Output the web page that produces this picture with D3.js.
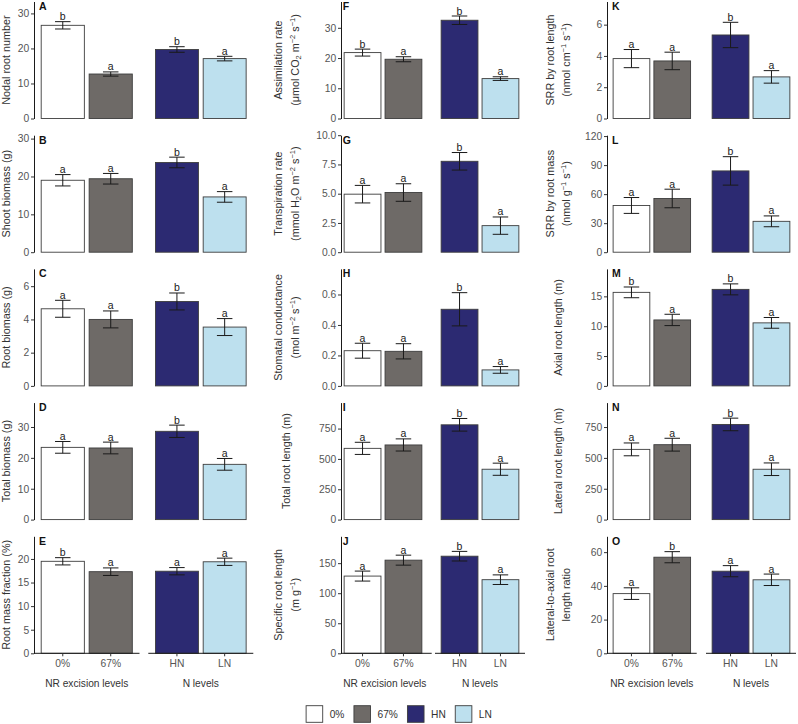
<!DOCTYPE html>
<html>
<head>
<meta charset="utf-8">
<script src="https://cdn.jsdelivr.net/npm/d3@7"></script>
<style>
  body { margin: 0; background: #fff; }
  svg text { font-family: "Liberation Sans", Arial, sans-serif; }
</style>
</head>
<body>
<svg id="chart"></svg>
<script>
// groups and fills
const groups = ["0%", "67%", "HN", "LN"];
const groupFills = ["#ffffff", "#6e6a67", "#2c2a72", "#bde0ee"];
const facetTitles = ["NR excision levels", "N levels"];

const panelLabels = ["A", "B", "C", "D", "E", "F", "G", "H", "I", "J", "K", "L", "M", "N", "O"];

const panelTitles = [
  ["Nodal root number"],
  ["Shoot biomass (g)"],
  ["Root biomass (g)"],
  ["Total biomass (g)"],
  ["Root mass fraction (%)"],
  ["Assimilation rate", "(μmol CO_{2} m^{−2} s^{−1})"],
  ["Transpiration rate", "(mmol H_{2}O m^{−2} s^{−1})"],
  ["Stomatal conductance", "(mol m^{−2} s^{−1})"],
  ["Total root length (m)"],
  ["Specific root length", "(m g^{−1})"],
  ["SRR by root length", "(nmol cm^{−1} s^{−1})"],
  ["SRR by root mass", "(nmol g^{−1} s^{−1})"],
  ["Axial root length (m)"],
  ["Lateral root length (m)"],
  ["Lateral-to-axial root", "length ratio"]
];

const panelMeans = [
  [26.6, 12.7, 19.7, 17.1],
  [19.0, 19.4, 23.7, 14.6],
  [4.64, 4.00, 5.08, 3.54],
  [23.4, 23.2, 28.6, 17.9],
  [19.5, 17.3, 17.4, 19.4],
  [21.8, 19.6, 32.5, 13.2],
  [4.96, 5.10, 7.77, 2.27],
  [0.231, 0.227, 0.503, 0.105],
  [587, 615, 781, 415],
  [128.5, 155, 161.6, 122.5],
  [3.83, 3.68, 5.34, 2.66],
  [48.3, 55.5, 84.0, 31.9],
  [15.67, 11.05, 16.17, 10.56],
  [569, 607, 771, 408],
  [35.4, 57.0, 48.7, 43.6]
];

const panelErrors = [
  [1.05, 0.6, 0.8, 0.65],
  [1.5, 1.4, 1.4, 1.4],
  [0.51, 0.51, 0.51, 0.51],
  [1.9, 1.9, 2.0, 1.9],
  [0.77, 0.8, 0.77, 0.77],
  [1.15, 0.83, 1.4, 0.6],
  [0.75, 0.75, 0.75, 0.74],
  [0.049, 0.05, 0.109, 0.022],
  [50, 50, 52, 50],
  [8.3, 8.3, 8, 8],
  [0.58, 0.56, 0.81, 0.4],
  [8.2, 9.6, 14.7, 5.6],
  [0.9, 0.95, 0.92, 0.9],
  [52, 52, 51, 51],
  [3.45, 3.3, 3.3, 3.4]
];

const panelLetters = [
  ["b", "a", "b", "a"],
  ["a", "a", "b", "a"],
  ["a", "a", "b", "a"],
  ["a", "a", "b", "a"],
  ["b", "a", "a", "a"],
  ["b", "a", "b", "a"],
  ["a", "a", "b", "a"],
  ["a", "a", "b", "a"],
  ["a", "a", "b", "a"],
  ["a", "a", "b", "a"],
  ["a", "a", "b", "a"],
  ["a", "a", "b", "a"],
  ["b", "a", "b", "a"],
  ["a", "a", "b", "a"],
  ["a", "b", "a", "a"]
];

const panelYMax = [33.4, 30.9, 7.04, 37.9, 24.8, 38.7, 10.0, 0.768, 964, 194.7, 7.48, 120.9, 19.6, 948, 69.4];

const panelTicks = [
  [0, 10, 20, 30],
  [0, 10, 20, 30],
  [0, 2, 4, 6],
  [0, 10, 20, 30],
  [0, 5, 10, 15, 20],
  [0, 10, 20, 30],
  [0, 2.5, 5, 7.5, 10],
  [0, 0.2, 0.4, 0.6],
  [0, 250, 500, 750],
  [0, 50, 100, 150],
  [0, 2, 4, 6],
  [0, 30, 60, 90, 120],
  [0, 5, 10, 15],
  [0, 250, 500, 750],
  [0, 20, 40, 60]
];

// layout
const W = 798, H = 724;
const panelH = 117;
const rowBottom = r => 118.5 + 133.7 * r;

const columns = [
  { axisX: 34, leftBand: [34, 139.5], rightBand: [148.3, 253.3], leftLine: [34, 139.5], rightLine: [148.3, 253.3],
    letterDx: 5, titleSingle: 9.5, titleLines: [3, 17] },
  { axisX: 341, leftBand: [338, 428], rightBand: [435, 525], leftLine: [341, 431.7], rightLine: [435, 525],
    letterDx: 1.8, titleSingle: 290, titleLines: [281.5, 298.5] },
  { axisX: 607, leftBand: [607, 696.7], rightBand: [706, 796], leftLine: [607, 696.7], rightLine: [706, 796],
    letterDx: 5, titleSingle: 561.5, titleLines: [553.5, 570] }
];

const svg = d3.select("#chart").attr("width", W).attr("height", H);

function richText(sel, str) {
  const re = /([_^])\{([^}]*)\}/g;
  let last = 0, m, shift = 0;
  const add = (t, dy, small) => {
    const ts = sel.append("tspan").text(t);
    if (dy) ts.attr("dy", dy);
    if (small) ts.attr("font-size", 7.5);
  };
  while ((m = re.exec(str))) {
    if (m.index > last) { add(str.slice(last, m.index), -shift, false); shift = 0; }
    const s = m[1] === "^" ? -4 : 2.5;
    add(m[2], s - shift, true);
    shift = s;
    last = re.lastIndex;
  }
  if (last < str.length) add(str.slice(last), -shift, false);
}

panelLabels.forEach((lab, i) => {
  const c = Math.floor(i / 5), r = i % 5;
  const col = columns[c];
  const y0 = rowBottom(r), y1 = y0 - panelH;

  const y = d3.scaleLinear().domain([0, panelYMax[i]]).range([y0, y1]);
  const xl = d3.scaleBand().domain(groups.slice(0, 2)).range(col.leftBand).paddingInner(0.1).paddingOuter(0.15);
  const xr = d3.scaleBand().domain(groups.slice(2)).range(col.rightBand).paddingInner(0.1).paddingOuter(0.15);
  const xOf = g => (groups.indexOf(g) < 2 ? xl : xr)(g);
  const bw = xl.bandwidth();

  const g = svg.append("g");

  const rows = groups.map((grp, k) => ({
    grp, k, m: panelMeans[i][k], e: panelErrors[i][k], letter: panelLetters[i][k]
  }));

  // bars
  g.selectAll("rect.bar").data(rows).enter().append("rect")
    .attr("x", d => xOf(d.grp))
    .attr("width", d => (d.k < 2 ? xl : xr).bandwidth())
    .attr("y", d => y(d.m))
    .attr("height", d => y0 - y(d.m))
    .attr("fill", d => groupFills[d.k])
    .attr("stroke", "#3d3d3d")
    .attr("stroke-width", 0.9);

  // error bars
  const eb = g.selectAll("g.eb").data(rows).enter().append("g")
    .attr("stroke", "#1a1a1a").attr("stroke-width", 1);
  const cx = d => xOf(d.grp) + (d.k < 2 ? xl : xr).bandwidth() / 2;
  eb.append("line")
    .attr("x1", cx).attr("x2", cx)
    .attr("y1", d => y(d.m - d.e)).attr("y2", d => y(d.m + d.e));
  eb.append("line")
    .attr("x1", d => cx(d) - 7.75).attr("x2", d => cx(d) + 7.75)
    .attr("y1", d => y(d.m + d.e)).attr("y2", d => y(d.m + d.e));
  eb.append("line")
    .attr("x1", d => cx(d) - 7.75).attr("x2", d => cx(d) + 7.75)
    .attr("y1", d => y(d.m - d.e)).attr("y2", d => y(d.m - d.e));

  // significance letters
  g.selectAll("text.sig").data(rows).enter().append("text")
    .attr("x", cx)
    .attr("y", d => y(d.m + d.e) - 1.5)
    .attr("text-anchor", "middle")
    .attr("font-size", 10.5)
    .attr("fill", "#1a1a1a")
    .text(d => d.letter);

  // y axis
  const decimals = panelTicks[i].some(t => !Number.isInteger(t));
  const yAxis = d3.axisLeft(y)
    .tickValues(panelTicks[i])
    .tickFormat(decimals ? d3.format(".1f") : d3.format("d"))
    .tickSize(3).tickSizeOuter(0).tickPadding(1.8);
  const ga = g.append("g").attr("transform", `translate(${col.axisX},0)`).call(yAxis);
  ga.select(".domain").attr("stroke", "#1a1a1a").attr("stroke-width", 1);
  ga.selectAll(".tick line").attr("stroke", "#333");
  ga.selectAll(".tick text").attr("fill", "#555").attr("font-size", 10.3)
    .attr("font-family", "\"Liberation Sans\", Arial, sans-serif");

  // panel letter
  g.append("text")
    .attr("x", col.axisX + col.letterDx)
    .attr("y", y1 + 8.5)
    .attr("font-size", 10.5)
    .attr("font-weight", "bold")
    .attr("fill", "#111")
    .text(lab);

  // y title
  const cy = (y0 + y1) / 2;
  const lines = panelTitles[i];
  lines.forEach((ln, j) => {
    const bx = lines.length === 1 ? col.titleSingle : col.titleLines[j];
    const t = g.append("text")
      .attr("transform", `translate(${bx},${cy}) rotate(-90)`)
      .attr("text-anchor", "middle")
      .attr("font-size", 10.8)
      .attr("fill", "#333");
    richText(t, ln);
  });

  // x axis only on bottom row
  if (r === 4) {
    [col.leftLine, col.rightLine].forEach(l => {
      g.append("line").attr("x1", l[0]).attr("x2", l[1]).attr("y1", y0).attr("y2", y0)
        .attr("stroke", "#1a1a1a").attr("stroke-width", 1);
    });
    rows.forEach(d => {
      g.append("line").attr("x1", cx(d)).attr("x2", cx(d)).attr("y1", y0).attr("y2", y0 + 3)
        .attr("stroke", "#333");
      g.append("text").attr("x", cx(d)).attr("y", y0 + 13.8)
        .attr("text-anchor", "middle").attr("font-size", 10.3).attr("fill", "#555")
        .text(d.grp);
    });
    [col.leftLine, col.rightLine].forEach((l, j) => {
      g.append("text").attr("x", (l[0] + l[1]) / 2 + (j === 0 && c === 1 ? -1.5 : 0)).attr("y", y0 + 33.8)
        .attr("text-anchor", "middle").attr("font-size", 10.2).attr("fill", "#333")
        .text(facetTitles[j]);
    });
  }
});

// legend
const legend = svg.append("g");
const boxSize = 16.6;
const items = legend.selectAll("g.item").data(groups).enter().append("g");
items.append("rect")
  .attr("width", boxSize).attr("height", boxSize)
  .attr("fill", (d, k) => groupFills[k])
  .attr("stroke", "#3d3d3d").attr("stroke-width", 0.9);
items.append("text")
  .attr("x", boxSize + 7).attr("y", boxSize / 2 + 3.6)
  .attr("font-size", 10.2).attr("fill", "#333")
  .text(d => d);
let offs = [], cur = 0;
items.each(function (d, k) {
  const tw = d3.select(this).select("text").node().getComputedTextLength();
  offs.push(cur);
  cur += boxSize + 7 + tw + (k < groups.length - 1 ? 9.5 : 0);
});
const legX = W / 2 - cur / 2;
items.attr("transform", (d, k) => `translate(${legX + offs[k]},705.7)`);
</script>
</body>
</html>
